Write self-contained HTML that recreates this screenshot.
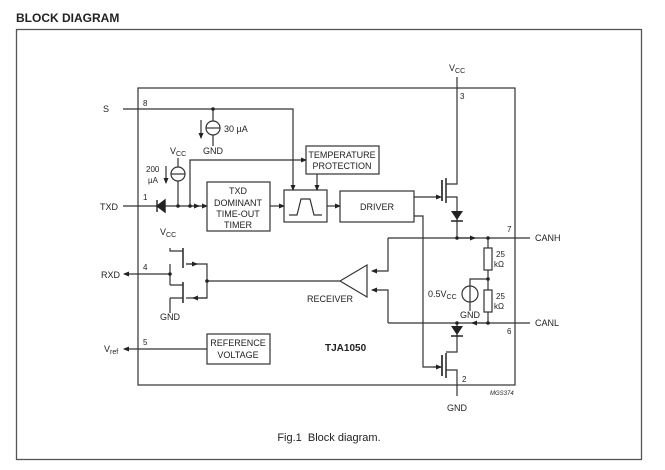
<!DOCTYPE html>
<html><head><meta charset="utf-8"><style>
html,body{margin:0;padding:0;background:#fff}
svg{display:block}
text{font-family:"Liberation Sans",sans-serif;fill:#222}
</style></head><body>
<svg width="665" height="470" viewBox="0 0 665 470" xmlns="http://www.w3.org/2000/svg">
<defs>
<marker id="a" markerWidth="6" markerHeight="6" refX="5" refY="3" orient="auto" markerUnits="userSpaceOnUse"><path d="M0,0.5 L6,3 L0,5.5z" fill="#222"/></marker>
</defs>
<text x="16" y="22" font-size="12" font-weight="bold">BLOCK DIAGRAM</text>
<rect x="16.5" y="29.5" width="625" height="430" fill="none" stroke="#555" stroke-width="1.3"/>
<g stroke="#333" stroke-width="1.2" fill="none">
<rect x="138" y="88" width="377" height="297"/>
<path d="M123,109 H293 V190" marker-end="url(#a)"/>
<path d="M213,109 V121 M213,135 V146"/>
<circle cx="213" cy="128" r="7"/><path d="M206,128 H220"/>
<path d="M201,120 V138" marker-end="url(#a)"/>
<path d="M178,158 V167 M178,181 V206"/>
<circle cx="178" cy="174" r="7"/><path d="M171,174 H185"/>
<path d="M166,166 V183" marker-end="url(#a)"/>
<path d="M123,206 H157 M165,206 H200"/>
<path d="M200,206 H207" marker-end="url(#a)"/>
<path d="M190,206 V160 H306" marker-end="url(#a)"/>
<path d="M190,206 H199" marker-end="url(#a)"/>
<rect x="207" y="182" width="63" height="49"/>
<path d="M270,206 H284" marker-end="url(#a)"/>
<rect x="284" y="190" width="43" height="32"/>
<path d="M289,215 H297 L301,199 H310 L314,215 H322"/>
<rect x="306" y="146" width="73" height="28"/>
<path d="M317,174 V190" marker-end="url(#a)"/>
<path d="M327,206 H340" marker-end="url(#a)"/>
<rect x="340" y="191" width="74" height="31"/>
<path d="M414,197 H441" marker-end="url(#a)"/>
<path d="M442,180 V201" stroke-width="1.8"/>
<path d="M457,77 V184 H446 M446,197 H457 V238"/>
<path d="M446,178 V203" stroke-width="1.6"/>
<path d="M414,216 H423 V367 H442" />
<path d="M433,367 H441" marker-end="url(#a)"/>
<path d="M442,355 V376" stroke-width="1.8"/>
<path d="M446,353 V378" stroke-width="1.6"/>
<path d="M457,323 V352 H446 M446,370 H457 V396"/>
<path d="M388,238 H530 M388,323 H530"/>
<path d="M457,238 H475" marker-end="url(#a)"/>
<path d="M488,323 H472" marker-end="url(#a)"/>
<path d="M488,238 V248 M488,270 V290 M488,312 V323"/>
<rect x="484" y="248" width="8" height="22"/>
<rect x="484" y="290" width="8" height="22"/>
<path d="M488,279 H470 V286 M470,302 V311"/>
<circle cx="470" cy="294" r="8"/><path d="M470,286 V302"/>
<path d="M388,238 V271 H372" marker-end="url(#a)"/>
<path d="M388,323 V290 H372" marker-end="url(#a)"/>
<path d="M340,281 L367,265 V297 Z"/>
<path d="M340,281 H207"/>
<path d="M170,248 V251 H183 M170,285 H183 M170,264 V285 M170,298 V313 M170,298 H183"/>
<path d="M183,248 V268 M183,282 V303" stroke-width="1.6"/>
<path d="M186,264 H207 V298 H186"/>
<path d="M186,264 H197" marker-end="url(#a)"/>
<path d="M207,298 H193" marker-end="url(#a)"/>
<path d="M170,274 H124" marker-end="url(#a)"/>
<rect x="207" y="334" width="63" height="30"/>
<path d="M207,349 H124" marker-end="url(#a)"/>
</g>
<g fill="#222">
<path d="M157,200 V212 M157,206 L165,200 V212 Z" stroke="#222" stroke-width="1.4"/>
<path d="M451,211 H463 L457,220 Z"/><path d="M451,221 H463" stroke="#222" stroke-width="1.5"/>
<path d="M451,326 H463 L457,335 Z"/><path d="M451,336 H463" stroke="#222" stroke-width="1.5"/>
<circle cx="213" cy="109" r="1.8"/><circle cx="178" cy="206" r="1.8"/><circle cx="190" cy="206" r="1.8"/>
<circle cx="457" cy="238" r="1.8"/><circle cx="488" cy="238" r="1.8"/><circle cx="488" cy="279" r="1.8"/>
<circle cx="457" cy="323" r="1.8"/><circle cx="488" cy="323" r="1.8"/>
<circle cx="170" cy="274" r="1.8"/><circle cx="207" cy="281" r="1.8"/>
</g>
<g font-size="9">
<text x="103" y="112">S</text><text x="143" y="106" font-size="8">8</text>
<text x="224" y="132">30 µA</text><text x="203" y="154">GND</text>
<text x="170" y="154">V<tspan font-size="7" dy="2">CC</tspan></text>
<text x="146" y="172" font-size="8">200</text><text x="148" y="183" font-size="8">µA</text>
<text x="100" y="210">TXD</text><text x="143" y="200" font-size="8">1</text>
<text x="238" y="194" text-anchor="middle">TXD</text>
<text x="238" y="206" text-anchor="middle">DOMINANT</text>
<text x="238" y="217" text-anchor="middle">TIME-OUT</text>
<text x="238" y="228" text-anchor="middle">TIMER</text>
<text x="342" y="158" text-anchor="middle">TEMPERATURE</text>
<text x="342" y="169" text-anchor="middle">PROTECTION</text>
<text x="377" y="210" text-anchor="middle">DRIVER</text>
<text x="449" y="71">V<tspan font-size="7" dy="2">CC</tspan></text>
<text x="460" y="99" font-size="8">3</text>
<text x="507" y="232" font-size="8">7</text><text x="535" y="241">CANH</text>
<text x="507" y="334" font-size="8">6</text><text x="535" y="326">CANL</text>
<text x="496" y="257" font-size="8">25</text><text x="494" y="267" font-size="8">kΩ</text>
<text x="496" y="299" font-size="8">25</text><text x="494" y="309" font-size="8">kΩ</text>
<text x="428" y="297">0.5V<tspan font-size="7" dy="2">CC</tspan></text>
<text x="460" y="318">GND</text>
<text x="462" y="382" font-size="8">2</text><text x="447" y="411">GND</text>
<text x="490" y="395" font-size="6" font-style="italic">MGS374</text>
<text x="307" y="302">RECEIVER</text>
<text x="160" y="235">V<tspan font-size="7" dy="2">CC</tspan></text>
<text x="160" y="320">GND</text>
<text x="101" y="278">RXD</text><text x="143" y="270" font-size="8">4</text>
<text x="238" y="346" text-anchor="middle">REFERENCE</text>
<text x="238" y="358" text-anchor="middle">VOLTAGE</text>
<text x="104" y="352">V<tspan font-size="7" dy="2">ref</tspan></text><text x="143" y="345" font-size="8">5</text>
<text x="325" y="351" font-weight="bold" font-size="10">TJA1050</text>
<text x="329" y="441" text-anchor="middle" font-size="11">Fig.1&#160;&#160;Block diagram.</text>
</g>
</svg>
</body></html>
